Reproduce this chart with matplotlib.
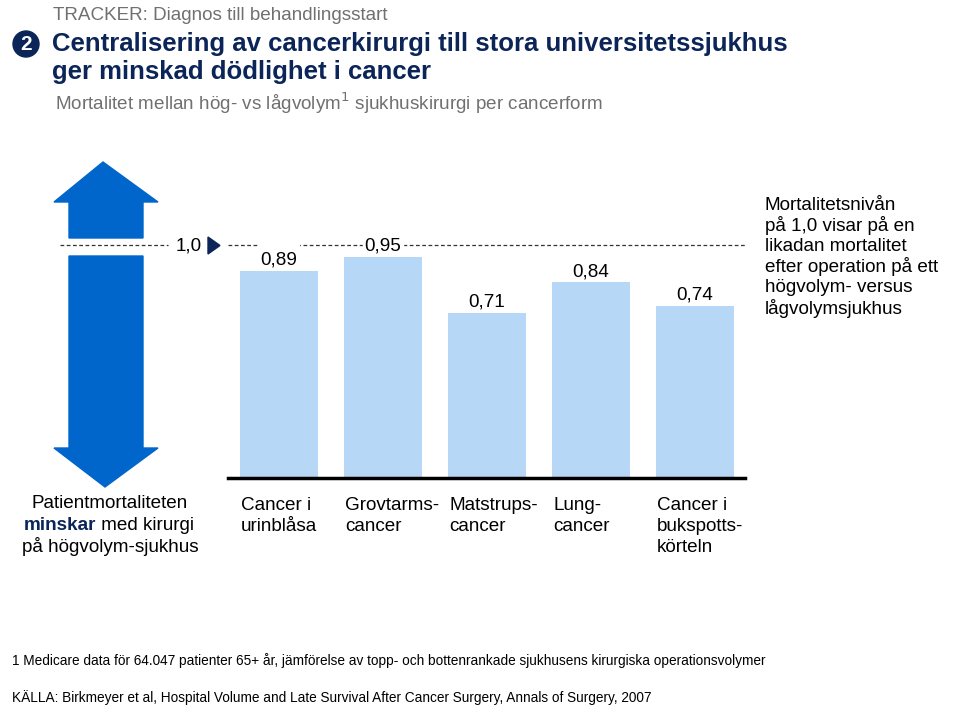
import numpy as np
import matplotlib
matplotlib.use("Agg")
import matplotlib.pyplot as plt
from matplotlib.patches import Polygon, Circle, Rectangle

plt.rcParams['font.family'] = ['Liberation Sans', 'DejaVu Sans']

# data
categories = [["Cancer i", "urinblåsa"], ["Grovtarms-", "cancer"], ["Matstrups-", "cancer"],
              ["Lung-", "cancer"], ["Cancer i", "bukspotts-", "körteln"]]
values = [0.89, 0.95, 0.71, 0.84, 0.74]
value_labels = ["0,89", "0,95", "0,71", "0,84", "0,74"]
reference_level = 1.0
note_lines = ["Mortalitetsnivån", "på 1,0 visar på en", "likadan mortalitet",
              "efter operation på ett", "högvolym- versus", "lågvolymsjukhus"]

navy = "#0B2559"
blue = "#0066CC"
light = "#B7D7F7"
gray = "#707070"
fs = 13.6

fig = plt.figure(figsize=(9.6, 7.2), dpi=100)

# overlay axes in pixel coordinates for decorations
ov = fig.add_axes([0, 0, 1, 1])
ov.set_xlim(0, 960)
ov.set_ylim(720, 0)
ov.axis("off")

# bar axes
W, H = 960, 720
left_px, right_px, base_px, top_px = 228, 745, 478, 150
unit_px = 233.0
ax = fig.add_axes([left_px / W, (H - base_px) / H, (right_px - left_px) / W, (base_px - top_px) / H])
ax.set_ylim(0, (base_px - top_px) / unit_px)
ax.set_xlim(-0.49, 4.48)
x = np.arange(len(values))
ax.bar(x, values, width=0.75, color=light, zorder=2)
for s in ["top", "right", "left"]:
    ax.spines[s].set_visible(False)
ax.spines["bottom"].set_linewidth(2.5)
ax.spines["bottom"].set_color("black")
ax.set_xticks([])
ax.set_yticks([])
ax.patch.set_alpha(0)

labels = []
for xi, v, lab in zip(x, values, value_labels):
    labels.append(ax.text(xi, v + 0.008, lab, ha="center", va="bottom", fontsize=fs, zorder=4))

# dashed reference line
ax.plot([-0.49, 4.48], [reference_level, reference_level], ls=(0, (3, 2)), color="#333333",
        lw=0.9, zorder=1, clip_on=False)
ov.plot([60, 168], [245, 245], ls=(0, (3, 2)), color="#333333", lw=0.9)
ov.text(189, 246, "1,0", ha="center", va="center", fontsize=fs)
ov.add_patch(Polygon([[208, 237], [208, 254], [220, 245.5]], closed=True, color=navy))
ov.add_patch(Rectangle((221, 238), 5, 14, color="white", zorder=3))

# white boxes behind value labels (break the dashed line like text boxes do)
fig.canvas.draw()
renderer = fig.canvas.get_renderer()
inv = fig.transFigure.inverted()
for t in labels:
    bb = t.get_window_extent(renderer)
    (x0, y0), (x1, y1) = inv.transform([[bb.x0 - 2, bb.y0 + 1], [bb.x1 + 2, bb.y1 + 10]])
    ax.add_patch(Rectangle((x0, y0), x1 - x0, y1 - y0, transform=fig.transFigure,
                           color="white", zorder=3, clip_on=False))

# category labels
for xi, cat in zip(x, categories):
    xp = left_px + (xi + 0.49 - 0.375) * (right_px - left_px) / 4.97 + 1
    for k, line in enumerate(cat):
        ov.text(xp, 505 + 21.5 * k, line, ha="left", va="center", fontsize=fs)

# double arrow
ov.add_patch(Polygon([[103, 162], [158, 202], [143, 202], [143, 238], [69, 238],
                      [69, 202], [54, 202]], closed=True, color=blue))
ov.add_patch(Polygon([[69, 256], [143, 256], [143, 448], [158, 448], [105, 487],
                      [54, 448], [69, 448]], closed=True, color=blue))

# text below arrow
ov.text(110, 504, "Patientmortaliteten", ha="center", va="center", fontsize=fs)
t = ov.text(24, 526, "minskar", ha="left", va="center", fontsize=fs, fontweight="bold", color=navy)
ov.annotate(" med kirurgi", xy=(1, 0.5), xycoords=t, ha="left", va="center", fontsize=fs)
ov.text(110, 547, "på högvolym-sjukhus", ha="center", va="center", fontsize=fs)

# right note
for k, line in enumerate(note_lines):
    ov.text(765, 205 + 20.6 * k, line, ha="left", va="center", fontsize=fs)

# header
ov.text(53, 16, "TRACKER: Diagnos till behandlingsstart", ha="left", va="center",
        fontsize=fs, color=gray)
ov.add_patch(Circle((26, 44), 13, color=navy))
ov.text(26, 45, "2", ha="center", va="center", fontsize=15, fontweight="bold", color="white")
ov.text(52, 44, "Centralisering av cancerkirurgi till stora universitetssjukhus", ha="left",
        va="center", fontsize=18.5, fontweight="bold", color=navy)
ov.text(52, 72, "ger minskad dödlighet i cancer", ha="left", va="center",
        fontsize=18.5, fontweight="bold", color=navy)
ov.text(55, 103, "Mortalitet mellan hög- vs lågvolym$^{1}$ sjukhuskirurgi per cancerform",
        ha="left", va="center", fontsize=fs, color=gray)

# footnotes
ov.text(12, 661, "1 Medicare data för 64.047 patienter 65+ år, jämförelse av topp- och bottenrankade sjukhusens kirurgiska operationsvolymer",
        ha="left", va="center", fontsize=9.8)
ov.text(12, 698, "KÄLLA: Birkmeyer et al, Hospital Volume and Late Survival After Cancer Surgery, Annals of Surgery, 2007",
        ha="left", va="center", fontsize=9.8)

fig.savefig("out.png", dpi=100)
